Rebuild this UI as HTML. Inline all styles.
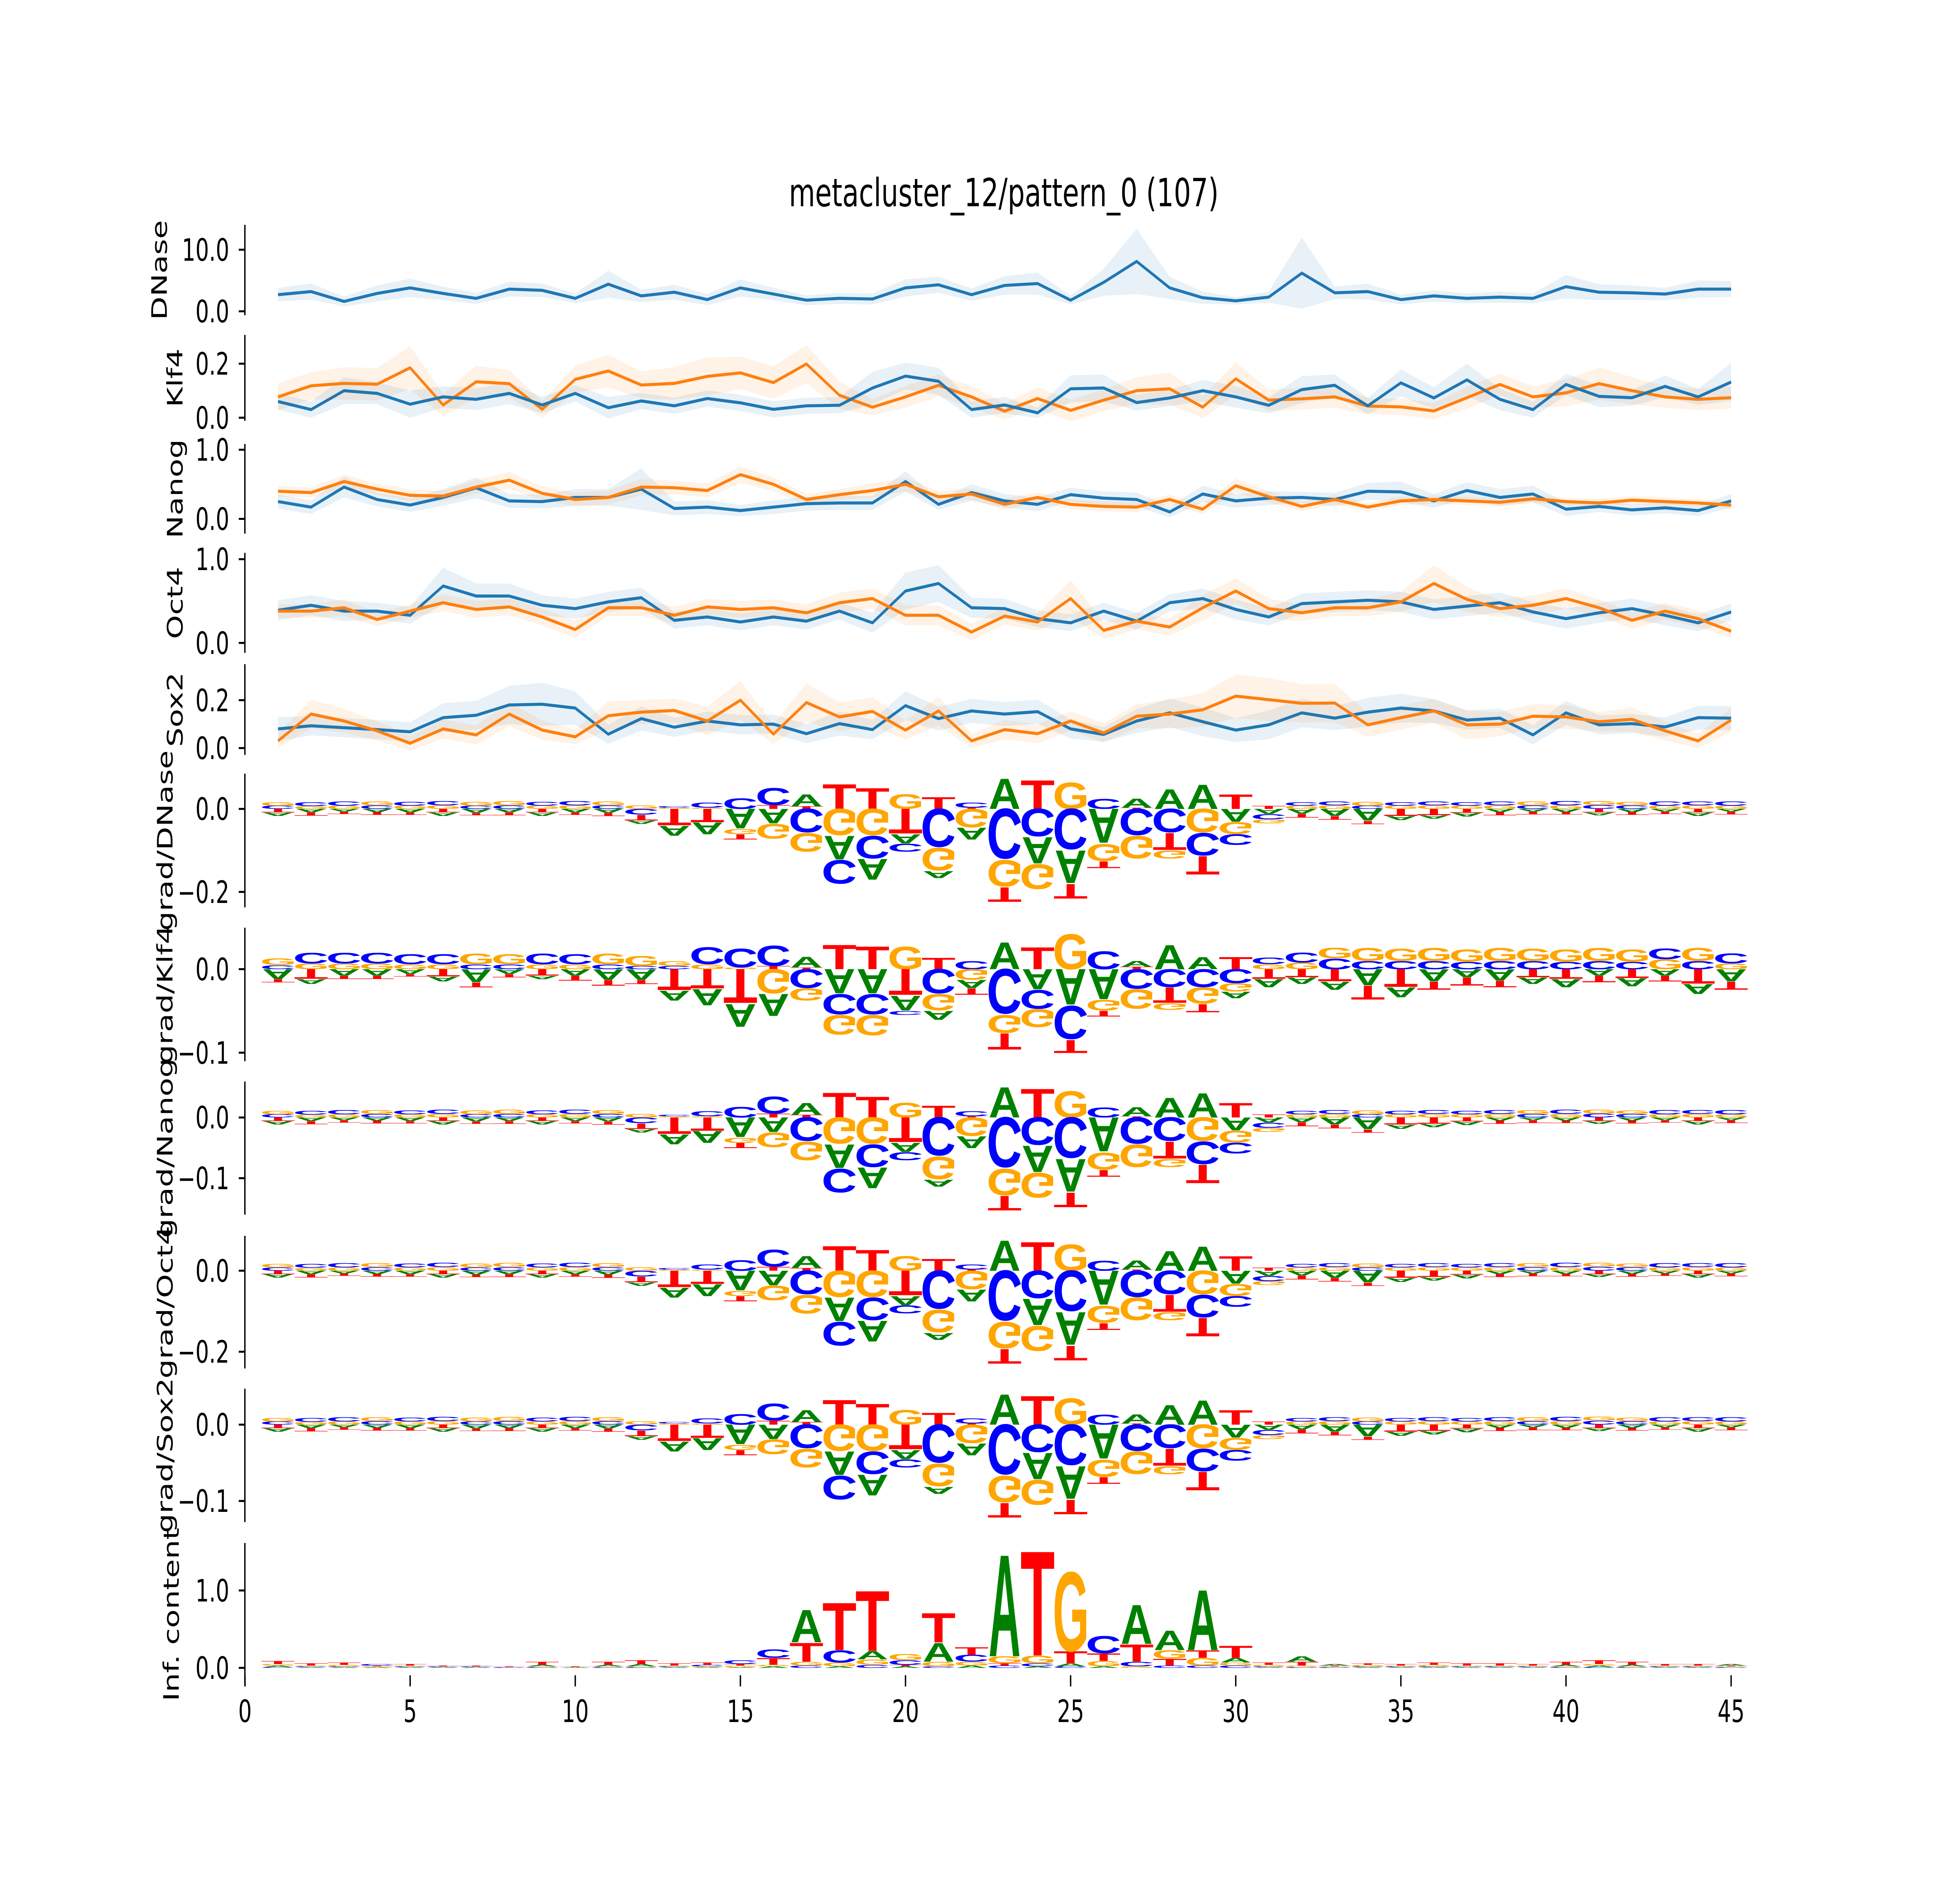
<!DOCTYPE html>
<html><head><meta charset="utf-8">
<style>
html,body{margin:0;padding:0;background:#fff;overflow:hidden;width:100vw;height:100vh;}
svg{display:block;width:100vw;height:100vh;}
text{font-family:"DejaVu Sans","Liberation Sans",sans-serif;}
</style></head>
<body>
<svg id="fig" xmlns="http://www.w3.org/2000/svg" viewBox="0 0 1568 1045.33" preserveAspectRatio="none">
<rect x="0" y="0" width="1568" height="1045.33" fill="#fff"/>
<text x="803" y="114.5" font-size="21.6" text-anchor="middle">metacluster_12/pattern_0 (107)</text>
</svg>
<script>
// ---------- data ----------
const positions = [1,2,3,4,5,6,7,8,9,10,11,12,13,14,15,16,17,18,19,20,21,22,23,24,25,26,27,28,29,30,31,32,33,34,35,36,37,38,39,40,41,42,43,44,45];
const xTicks = [0,5,10,15,20,25,30,35,40,45];

const dnaseBlue = [2.7,3.2,1.6,2.9,3.8,2.9,2.1,3.6,3.4,2.1,4.4,2.5,3.1,1.9,3.8,2.8,1.8,2.1,2.0,3.8,4.3,2.7,4.2,4.5,1.8,4.7,8.1,3.8,2.2,1.7,2.3,6.2,3.0,3.2,1.9,2.5,2.1,2.3,2.1,4.0,3.1,3.0,2.8,3.6,3.6];
const dnaseBlueErr = [1.1,1.3,0.8,1.3,1.5,1.1,0.9,1.2,1.1,0.8,2.2,1.0,1.2,0.9,1.4,1.0,0.8,0.9,0.9,1.4,1.3,1.0,1.5,1.8,0.7,2.2,5.3,1.8,1.0,0.6,0.9,5.8,1.0,1.3,0.8,0.9,0.8,0.9,0.8,1.9,1.3,1.2,1.0,1.4,1.3];

const klf4Blue = [.06,.03,.10,.09,.05,.077,.068,.09,.047,.09,.037,.062,.044,.071,.055,.031,.044,.046,.11,.154,.135,.03,.047,.018,.107,.11,.056,.073,.1,.077,.046,.104,.12,.044,.129,.073,.14,.068,.03,.123,.079,.074,.116,.077,.132];
const klf4BlueErr = [.03,.03,.05,.04,.05,.04,.04,.04,.03,.03,.04,.03,.03,.03,.03,.03,.03,.03,.06,.05,.05,.03,.03,.02,.05,.05,.03,.03,.04,.04,.03,.05,.04,.03,.05,.04,.06,.04,.03,.04,.04,.03,.04,.03,.07];
const klf4Orange = [.077,.118,.127,.124,.185,.047,.133,.126,.031,.142,.173,.121,.127,.153,.166,.13,.199,.083,.039,.077,.12,.077,.024,.071,.027,.065,.1,.107,.039,.144,.065,.07,.077,.043,.04,.025,.074,.123,.077,.092,.126,.1,.077,.068,.074];
const klf4OrangeErr = [.05,.05,.06,.06,.08,.04,.06,.05,.03,.05,.06,.05,.06,.07,.06,.06,.07,.05,.03,.04,.04,.04,.03,.04,.04,.04,.05,.06,.04,.06,.04,.04,.04,.03,.03,.03,.04,.04,.04,.05,.06,.05,.04,.04,.04];

const nanogBlue = [.25,.17,.46,.28,.2,.31,.45,.26,.25,.31,.31,.43,.15,.17,.12,.17,.22,.23,.23,.54,.21,.38,.26,.21,.35,.3,.28,.1,.36,.26,.3,.31,.28,.4,.39,.26,.41,.31,.36,.14,.18,.13,.16,.12,.26];
const nanogBlueErr = [.1,.1,.15,.1,.1,.12,.15,.1,.1,.12,.12,.3,.1,.1,.08,.1,.1,.1,.1,.15,.08,.12,.1,.1,.1,.1,.1,.08,.12,.1,.1,.08,.1,.12,.15,.1,.12,.12,.12,.1,.08,.08,.08,.08,.1];
const nanogOrange = [.4,.38,.54,.43,.34,.33,.46,.56,.37,.28,.31,.46,.45,.41,.64,.5,.28,.35,.41,.5,.32,.36,.21,.31,.21,.18,.17,.28,.14,.48,.32,.18,.28,.17,.26,.28,.26,.24,.29,.25,.23,.27,.25,.23,.2];
const nanogOrangeErr = [.08,.07,.1,.08,.08,.08,.1,.12,.1,.1,.1,.12,.1,.1,.12,.1,.08,.08,.1,.1,.08,.08,.08,.07,.07,.07,.07,.07,.07,.1,.08,.07,.07,.06,.06,.06,.06,.06,.06,.05,.06,.06,.06,.05,.05];

const oct4Blue = [.39,.45,.38,.38,.33,.68,.56,.56,.45,.41,.49,.54,.27,.31,.25,.31,.26,.38,.24,.62,.71,.42,.41,.29,.24,.38,.26,.48,.53,.4,.31,.47,.49,.51,.49,.4,.44,.48,.37,.29,.36,.41,.33,.24,.37];
const oct4BlueErr = [.12,.12,.12,.1,.1,.22,.15,.15,.12,.12,.12,.12,.1,.1,.1,.1,.1,.1,.12,.22,.22,.12,.12,.1,.1,.1,.1,.1,.12,.12,.1,.12,.12,.12,.12,.12,.12,.12,.12,.12,.12,.12,.12,.1,.1];
const oct4Orange = [.38,.38,.42,.28,.38,.48,.4,.43,.31,.16,.42,.42,.33,.43,.4,.42,.36,.48,.53,.33,.33,.13,.32,.25,.53,.15,.26,.19,.42,.62,.41,.36,.42,.42,.49,.71,.52,.41,.45,.53,.42,.27,.38,.29,.14];
const oct4OrangeErr = [.08,.08,.1,.08,.08,.1,.1,.1,.1,.1,.1,.1,.1,.1,.1,.1,.1,.12,.12,.12,.12,.1,.1,.1,.22,.1,.1,.1,.15,.15,.12,.1,.1,.1,.12,.22,.15,.1,.12,.12,.1,.1,.1,.1,.08];

const sox2Blue = [.08,.093,.085,.077,.068,.127,.137,.18,.183,.167,.058,.123,.087,.113,.097,.1,.06,.102,.077,.177,.123,.155,.142,.152,.08,.057,.113,.147,.11,.075,.097,.147,.125,.15,.167,.155,.117,.125,.055,.147,.097,.102,.088,.127,.125];
const sox2BlueErr = [.05,.04,.04,.04,.04,.06,.06,.08,.09,.07,.04,.05,.04,.04,.04,.04,.04,.05,.04,.06,.05,.05,.05,.05,.04,.03,.05,.06,.06,.05,.06,.06,.05,.06,.06,.05,.04,.04,.04,.05,.04,.04,.04,.05,.05];
const sox2Orange = [.03,.142,.113,.072,.02,.08,.055,.142,.075,.047,.135,.15,.157,.113,.2,.058,.19,.13,.153,.075,.155,.03,.077,.06,.113,.063,.133,.142,.16,.217,.202,.187,.188,.097,.127,.155,.097,.1,.133,.13,.11,.12,.072,.03,.117];
const sox2OrangeErr = [.03,.06,.05,.04,.03,.04,.04,.05,.04,.03,.06,.05,.05,.06,.08,.04,.08,.06,.06,.04,.06,.03,.04,.04,.04,.04,.05,.06,.07,.09,.09,.08,.08,.05,.05,.05,.06,.05,.05,.05,.04,.05,.04,.03,.05];

// contribution-score base (thousandths), shared by DNase/Nanog/Oct4/Sox2 grad panels
const gradA = [-8,-9,-7,-8,-9,-8,-10,-9,-8,-9,-10,-8,-25,-30,-50,-37,30,-60,-53,-23,-17,-30,77,-67,-83,-87,23,50,62,-33,-13,-12,-18,-30,-10,-8,-9,-8,-7,-8,-7,-8,-7,-8,-7];
const gradC = [8,10,11,9,10,11,8,9,10,11,9,-15,4,13,27,43,-60,-60,-57,-20,-97,13,-127,-70,-103,25,-67,-60,-57,-27,-13,9,10,8,9,10,9,10,9,11,10,9,11,10,11];
const gradG = [9,7,8,10,8,9,10,11,8,9,10,9,3,3,-13,-37,-47,-67,-67,37,-57,-47,-67,-63,67,-43,-57,-20,-60,-30,-10,8,9,10,8,9,8,9,10,9,10,9,8,9,8];
const gradT = [-9,-8,-6,-7,-6,-9,-6,-7,-9,-6,-8,-14,-42,-34,-13,10,7,63,53,-63,30,3,-37,73,-37,-17,3,-43,-47,37,8,-10,-9,-8,-18,-16,-10,-8,-7,-6,-9,-7,-6,-9,-7];
const gradPanelNames = ["DNase","Nanog","Oct4","Sox2"];
const gradPanelScale = [0.975,0.667,0.999,0.530];

// grad/Klf4 contribution (thousandths)
const klf4GradA = [-12,-6,-8,-8,-6,-6,-16,-6,-4,-8,-13,-13,-12,-20,-28,-27,13,-30,-30,-18,-11,-10,33,-25,-44,-37,7,30,15,-8,-10,-8,-10,-20,-12,-15,-10,-14,-8,-10,-8,-10,-8,-12,-15];
const klf4GradC = [5,13,13,13,12,12,6,6,13,12,6,4,4,21,23,25,-23,-25,-25,-5,-30,10,-55,-23,-41,22,-24,-22,-22,-17,8,12,13,10,10,10,9,10,10,9,10,9,13,10,12];
const klf4GradG = [8,7,7,7,6,6,13,12,6,6,13,12,6,6,2,-30,-15,-24,-25,28,-20,-13,-22,-22,43,-13,-24,-8,-20,-10,6,8,13,16,15,16,15,16,15,15,16,15,12,16,7];
const klf4GradT = [-4,-12,-4,-4,-3,-9,-6,-4,-8,-6,-7,-5,-26,-24,-42,4,2,30,28,-32,14,-8,-20,27,-16,-7,3,-19,-10,15,-12,-10,-15,-17,-22,-10,-10,-8,-10,-12,-8,-11,-7,-18,-10];

// information content (bits)
const icA = [.02,.01,.01,.01,.01,.01,.01,.00,.02,.01,.02,.03,.01,.01,.01,.02,.43,.02,.11,.02,.25,.03,1.35,.02,.04,.02,.52,.26,.80,.06,.01,.07,.02,.01,.01,.01,.01,.01,.01,.02,.02,.02,.01,.01,.02];
const icC = [.01,.01,.01,.02,.01,.01,.01,.01,.01,.00,.01,.01,.01,.02,.05,.11,.03,.16,.04,.06,.02,.09,.03,.04,.02,.23,.06,.03,.03,.03,.01,.01,.01,.01,.01,.01,.01,.01,.01,.01,.01,.01,.01,.01,.01];
const icG = [.02,.01,.02,.01,.01,.00,.00,.00,.01,.00,.01,.01,.01,.01,.02,.02,.05,.05,.07,.08,.06,.05,.09,.10,1.05,.07,.02,.11,.10,.04,.02,.02,.01,.02,.01,.02,.01,.01,.01,.01,.02,.01,.01,.01,.01];
const icT = [.04,.03,.03,.01,.02,.01,.01,.01,.04,.01,.04,.05,.03,.03,.02,.09,.25,.63,.80,.02,.39,.10,.03,1.39,.16,.10,.23,.09,.10,.16,.03,.05,.01,.02,.02,.03,.03,.03,.02,.04,.05,.04,.02,.02,.01];

// ---------- layout ----------
const NS = "http://www.w3.org/2000/svg";
const svg = document.getElementById("fig");
const X0 = 196, XU = 26.42;
function xs(v){ return X0 + XU*v; }
const SPINE_X = 195.9;
const BLUE = "#1f77b4", ORANGE = "#ff7f0e";
const LETTER_COLOR = {A:"#008000",C:"#0000ff",G:"#ffa500",T:"#ff0000"};
const INK = {A:[0,722],C:[40,690],G:[40,725],T:[20,591]};

function el(tag, attrs, parent){
  const e = document.createElementNS(NS, tag);
  for (const k in attrs) e.setAttribute(k, attrs[k]);
  (parent||svg).appendChild(e);
  return e;
}

function axis(g, name, spineTop, spineBot, ticks, yfun, labelText, labelX){
  const sp = el("line",{x1:SPINE_X,x2:SPINE_X,y1:spineTop,y2:spineBot,stroke:"#000","stroke-width":1.1},g);
  
  
  ticks.forEach(function(t){
    const y = yfun(t.v);
    const tk = el("line",{x1:SPINE_X-4.9,x2:SPINE_X,y1:y,y2:y,stroke:"#000","stroke-width":1.1},g);
    
    
    const tl = el("text",{x:SPINE_X-12.5,y:y+6.1,"font-size":17,"text-anchor":"end"},g);
    tl.textContent = t.s;
    
    
  });
  const cy = (spineTop+spineBot)/2;
  const lb = el("text",{x:labelX,y:cy,"font-size":17,"text-anchor":"middle",transform:"rotate(-90 "+labelX+" "+cy+")"},g);
  lb.textContent = labelText;
  
  
}

function linePanel(name, cfg){
  const g = el("g",{});
  
  
  const yf = function(v){ return cfg.y0 - cfg.ppu*v; };
  cfg.series.forEach(function(s){
    let up = "", lo = "";
    positions.forEach(function(p,i){ up += (i?" L":"M")+xs(p).toFixed(2)+","+yf(s.vals[i]+s.err[i]).toFixed(2); });
    for (let i=positions.length-1;i>=0;i--) lo += " L"+xs(positions[i]).toFixed(2)+","+yf(s.vals[i]-s.err[i]).toFixed(2);
    const band = el("path",{d:up+lo+" Z",fill:s.color,"fill-opacity":0.1,stroke:"none"},g);
    
    
  });
  cfg.series.forEach(function(s){
    let d = "";
    positions.forEach(function(p,i){ d += (i?" L":"M")+xs(p).toFixed(2)+","+yf(s.vals[i]).toFixed(2); });
    const ln = el("path",{d:d,fill:"none",stroke:s.color,"stroke-width":1.7,"stroke-linejoin":"round"},g);
    
    
  });
  axis(g, name, cfg.top, cfg.bot, cfg.ticks, yf, cfg.label, cfg.labelX);
}

function drawLetter(g, name, ch, xc, yTop, yBot, flip){
  const h = yBot - yTop;
  if (h < 0.08) return;
  const w = XU*0.97;
  const ink = INK[ch];
  const sx = w/(ink[1]-ink[0]), sy = h/716;
  const tr = flip
    ? "translate("+(xc-w/2).toFixed(2)+","+yTop.toFixed(2)+") scale("+sx.toFixed(5)+","+(-sy).toFixed(5)+") translate("+(-ink[0])+",0)"
    : "translate("+(xc-w/2).toFixed(2)+","+yBot.toFixed(2)+") scale("+sx.toFixed(5)+","+sy.toFixed(5)+") translate("+(-ink[0])+",0)";
  const t = el("text",{transform:tr,"font-size":1000,"font-weight":"bold",fill:LETTER_COLOR[ch],style:"font-family:'Liberation Sans',sans-serif"},g);
  t.textContent = ch;
  
  
}

function logoPanel(name, cfg){
  const g = el("g",{});
  
  
  const yf = function(v){ return cfg.y0 - cfg.ppu*v; };
  positions.forEach(function(p,i){
    const items = [["A",cfg.A[i]*cfg.scale],["C",cfg.C[i]*cfg.scale],["G",cfg.G[i]*cfg.scale],["T",cfg.T[i]*cfg.scale]];
    const pos = items.filter(function(a){return a[1]>0;}).sort(function(a,b){return a[1]-b[1];});
    const neg = items.filter(function(a){return a[1]<0;}).sort(function(a,b){return a[1]-b[1];});
    let acc = 0;
    pos.forEach(function(a){ const yb = yf(acc), yt = yf(acc+a[1]); drawLetter(g,name,a[0],xs(p),yt,yb,false); acc += a[1]; });
    acc = 0;
    neg.forEach(function(a){ const yt = yf(acc), yb = yf(acc+a[1]); drawLetter(g,name,a[0],xs(p),yt,yb,true); acc += a[1]; });
  });
  axis(g, name, cfg.top, cfg.bot, cfg.ticks, yf, cfg.label, cfg.labelX);
}

// ---------- line panels ----------
linePanel("dnase",{y0:172.9,ppu:3.42,top:124.9,bot:175.1,label:"DNase",labelX:133.5,
  ticks:[{v:0,s:"0.0"},{v:10,s:"10.0"}],
  series:[{key:"blue",color:BLUE,vals:dnaseBlue,err:dnaseBlueErr}]});
linePanel("klf4",{y0:232.0,ppu:150,top:186.0,bot:233.7,label:"Klf4",labelX:146,
  ticks:[{v:0,s:"0.0"},{v:0.2,s:"0.2"}],
  series:[{key:"orange",color:ORANGE,vals:klf4Orange,err:klf4OrangeErr},{key:"blue",color:BLUE,vals:klf4Blue,err:klf4BlueErr}]});
linePanel("nanog",{y0:288.2,ppu:38.4,top:246.6,bot:296.4,label:"Nanog",labelX:146,
  ticks:[{v:0,s:"0.0"},{v:1,s:"1.0"}],
  series:[{key:"blue",color:BLUE,vals:nanogBlue,err:nanogBlueErr},{key:"orange",color:ORANGE,vals:nanogOrange,err:nanogOrangeErr}]});
linePanel("oct4",{y0:357.1,ppu:46.5,top:307.1,bot:362.6,label:"Oct4",labelX:146,
  ticks:[{v:0,s:"0.0"},{v:1,s:"1.0"}],
  series:[{key:"blue",color:BLUE,vals:oct4Blue,err:oct4BlueErr},{key:"orange",color:ORANGE,vals:oct4Orange,err:oct4OrangeErr}]});
linePanel("sox2",{y0:415.5,ppu:133,top:368.9,bot:419.3,label:"Sox2",labelX:146,
  ticks:[{v:0,s:"0.0"},{v:0.2,s:"0.2"}],
  series:[{key:"blue",color:BLUE,vals:sox2Blue,err:sox2BlueErr},{key:"orange",color:ORANGE,vals:sox2Orange,err:sox2OrangeErr}]});

// ---------- grad logo panels ----------
logoPanel("grad-dnase",{y0:449.3,ppu:230.5,top:429.7,bot:504,label:"grad/DNase",labelX:138,
  ticks:[{v:0,s:"0.0"},{v:-0.2,s:"\u22120.2"}],A:gradA,C:gradC,G:gradG,T:gradT,scale:gradPanelScale[0]/1000});
logoPanel("grad-klf4",{y0:538.3,ppu:464,top:515.3,bot:589.4,label:"grad/Klf4",labelX:138,
  ticks:[{v:0,s:"0.0"},{v:-0.1,s:"\u22120.1"}],A:klf4GradA,C:klf4GradC,G:klf4GradG,T:klf4GradT,scale:1/1000});
logoPanel("grad-nanog",{y0:620.7,ppu:337,top:600.7,bot:674.7,label:"grad/Nanog",labelX:138,
  ticks:[{v:0,s:"0.0"},{v:-0.1,s:"\u22120.1"}],A:gradA,C:gradC,G:gradG,T:gradT,scale:gradPanelScale[1]/1000});
logoPanel("grad-oct4",{y0:705.8,ppu:225,top:686.4,bot:760.1,label:"grad/Oct4",labelX:138,
  ticks:[{v:0,s:"0.0"},{v:-0.2,s:"\u22120.2"}],A:gradA,C:gradC,G:gradG,T:gradT,scale:gradPanelScale[2]/1000});
logoPanel("grad-sox2",{y0:791.3,ppu:424,top:771.3,bot:845.4,label:"grad/Sox2",labelX:138,
  ticks:[{v:0,s:"0.0"},{v:-0.1,s:"\u22120.1"}],A:gradA,C:gradC,G:gradG,T:gradT,scale:gradPanelScale[3]/1000});

// ---------- information content ----------
logoPanel("inf-content",{y0:926.4,ppu:43,top:857,bot:936.5,label:"Inf. content",labelX:143,
  ticks:[{v:0,s:"0.0"},{v:1,s:"1.0"}],A:icA,C:icC,G:icG,T:icT,scale:1});

// ---------- x axis ----------
const xg = el("g",{});


xTicks.forEach(function(t){
  const x = xs(t);
  const tk = el("line",{x1:x,x2:x,y1:930.5,y2:936.7,stroke:"#000","stroke-width":1.1},xg);
  
  
  const tl = el("text",{x:x,y:956.5,"font-size":17,"text-anchor":"middle"},xg);
  tl.textContent = String(t);
  
  
});
</script>
</body></html>
